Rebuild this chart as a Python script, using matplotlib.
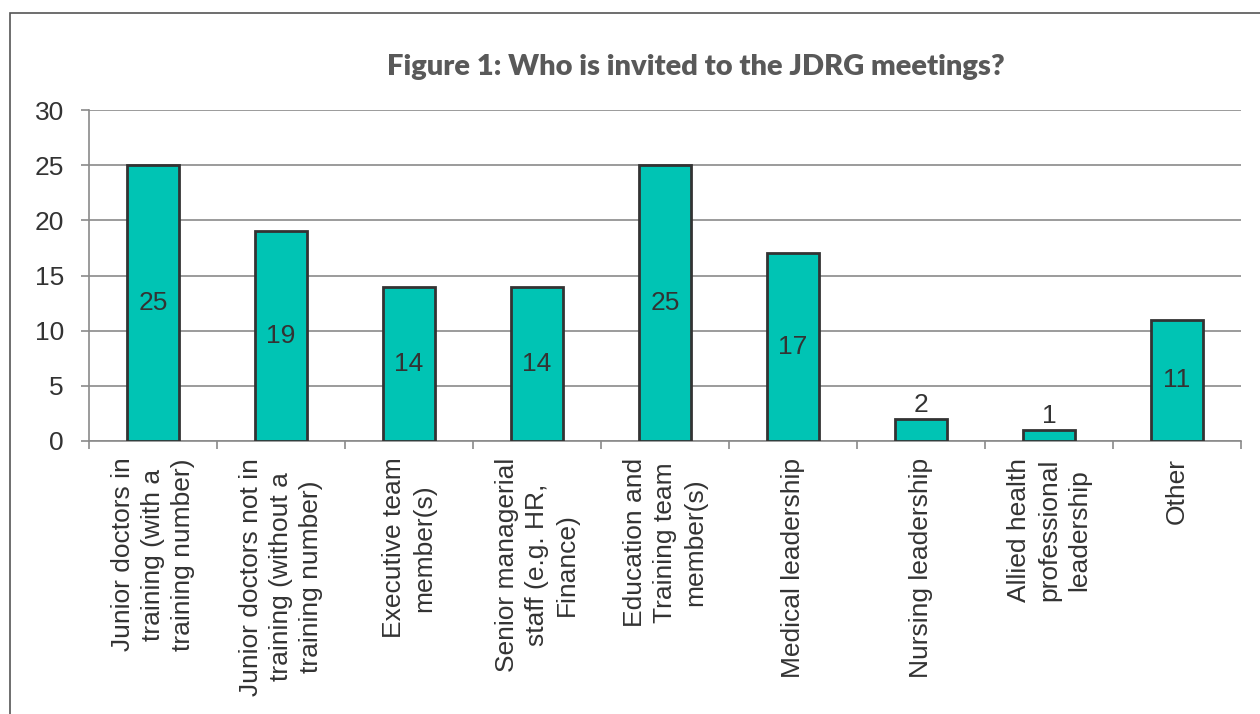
import matplotlib
matplotlib.use("Agg")
import matplotlib.pyplot as plt
from matplotlib.patches import Rectangle

categories = [
    "Junior doctors in\ntraining (with a\ntraining number)",
    "Junior doctors not in\ntraining (without a\ntraining number)",
    "Executive team\nmember(s)",
    "Senior managerial\nstaff (e.g. HR,\nFinance)",
    "Education and\nTraining team\nmember(s)",
    "Medical leadership",
    "Nursing leadership",
    "Allied health\nprofessional\nleadership",
    "Other",
]
counts = [25, 19, 14, 14, 25, 17, 2, 1, 11]
yticks = [0, 5, 10, 15, 20, 25, 30]

plt.rcParams["font.family"] = ["Liberation Sans", "DejaVu Sans"]
TEAL = "#00C4B4"; EDGE = "#333333"; GRID = "#8a8a8a"; TXT = "#333333"

fig = plt.figure(figsize=(12.6, 7.14), dpi=100)
ax = fig.add_axes([89 / 1260, 1 - 441 / 714, (1241 - 89) / 1260, (441 - 110) / 714])

x = list(range(len(counts)))
ax.bar(x, counts, width=0.4, color=TEAL, edgecolor=EDGE, linewidth=2, zorder=3)
for xi, v in zip(x, counts):
    if v >= 5:
        ax.text(xi, v / 2, str(v), ha="center", va="center", fontsize=19, color=TXT, zorder=4)
    else:
        ax.text(xi, v + 0.2, str(v), ha="center", va="bottom", fontsize=19, color=TXT, zorder=4)

ax.set_xlim(-0.5, len(counts) - 0.5)
ax.set_ylim(0, 30)
ax.set_yticks(yticks)
ax.yaxis.grid(True, color=GRID, lw=1.2, zorder=0)
ax.tick_params(axis="y", length=6, width=1.2, color=GRID, pad=12, labelsize=19, labelcolor=TXT)

ax.set_xticks(x)
ax.set_xticklabels(categories, rotation=90, fontsize=19, color=TXT)
for lbl in ax.get_xticklabels():
    lbl.set_multialignment("center")
    lbl.set_linespacing(1.32)
ax.tick_params(axis="x", which="major", length=0, pad=12)
ax.set_xticks([i - 0.5 for i in range(len(counts) + 1)], minor=True)
ax.tick_params(axis="x", which="minor", length=6, width=1.2, color=GRID)

for s in ["top", "right"]:
    ax.spines[s].set_visible(False)
ax.spines["left"].set_color(GRID); ax.spines["left"].set_linewidth(1.2)
ax.spines["bottom"].set_color(GRID); ax.spines["bottom"].set_linewidth(1.2)

fig.text(0.552, 1 - 67 / 714, "Figure 1: Who is invited to the JDRG meetings?",
         ha="center", va="center", fontsize=21, fontweight="heavy", color="#595959",
         family=["Lato", "DejaVu Sans"])

fig.patches.append(Rectangle((10 / 1260, -0.1), 1.2, 1.1 - 13 / 714, transform=fig.transFigure,
                             fill=False, edgecolor="#555555", lw=1.2))

fig.savefig("out.png", dpi=100)
